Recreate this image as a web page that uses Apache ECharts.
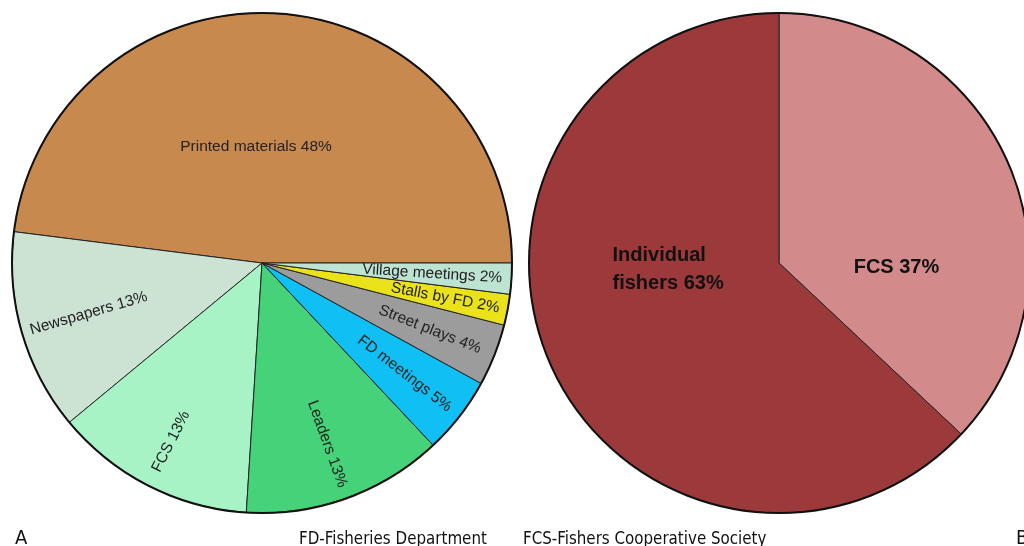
<!DOCTYPE html>
<html>
<head>
<meta charset="utf-8">
<script src="https://cdn.jsdelivr.net/npm/echarts@6/dist/echarts.min.js"></script>
<style>
  html, body { margin: 0; padding: 0; background: #fff; }
  #chart { width: 1024px; height: 546px; }
</style>
</head>
<body>
<div id="chart"></div>
<script>
// left pie (A): information sources
const sourceNames = ['Printed materials', 'Newspapers', 'FCS', 'Leaders', 'FD meetings', 'Street plays', 'Stalls by FD', 'Village meetings']
const sourceValues = [48, 13, 13, 13, 5, 4, 2, 2]
const sourceColors = ['#C8894E', '#CCE3D4', '#A8F3C6', '#45D278', '#10C0F4', '#9C9C9C', '#EAE21A', '#BDE3D2']

// right pie (B): who receives
const memberNames = ['FCS', 'Individual fishers']
const memberValues = [37, 63]
const memberColors = ['#D28A8A', '#9C393B']

const chart = echarts.init(document.getElementById('chart'))

const leftCenter = [262, 263]
const rightCenter = [779, 263]
const R = 250
const pct = p => p.name + ' ' + p.value + '%'
const noteFont = 'Liberation Sans Narrow, DejaVu Sans Condensed, sans-serif'

// small radial tweaks so the rotated labels sit like in the original
// (dx of a rotated label runs along the text, i.e. along the radius)
const radialNudge = { 'FCS': 20, 'Leaders': 12, 'Stalls by FD': 6, 'Village meetings': -10 }
const total = sourceValues.reduce((a, b) => a + b, 0)
const midAngle = i => {
  let before = 0
  for (let k = 0; k < i; k++) before += sourceValues[k]
  return (before + sourceValues[i] / 2) / total * Math.PI * 2
}

const baseData = sourceNames.map((name, i) => ({
  name,
  value: sourceValues[i],
  itemStyle: { color: sourceColors[i] },
  // only the big slice keeps its label in this series, flat
  label: i === 0 ? { show: true, rotate: 0 } : { show: false }
}))

// transparent ring on top, just to push the small labels outward
const labelData = sourceNames.map((name, i) => ({
  name,
  value: sourceValues[i],
  label: { show: i !== 0 }
}))

const option = {
  animation: false,
  title: [
    { text: 'A', left: 10, top: 524, textStyle: { fontFamily: noteFont, fontSize: 20, fontWeight: 'normal', color: '#111' } },
    { text: 'FD-Fisheries Department', left: 294, top: 526, textStyle: { fontFamily: noteFont, fontSize: 16.8, fontWeight: 'normal', color: '#111' } },
    { text: 'FCS-Fishers Cooperative Society', left: 518, top: 526, textStyle: { fontFamily: noteFont, fontSize: 16.8, fontWeight: 'normal', color: '#111' } },
    { text: 'B', left: 1011, top: 524, textStyle: { fontFamily: noteFont, fontSize: 20, fontWeight: 'normal', color: '#111' } }
  ],
  series: [
    {
      type: 'pie',
      center: leftCenter,
      radius: [0, R],
      startAngle: 0,
      clockwise: false,
      avoidLabelOverlap: false,
      silent: true,
      itemStyle: { borderColor: '#222', borderWidth: 1 },
      label: {
        position: 'inside',
        color: '#222',
        fontFamily: 'Liberation Sans, Arial, sans-serif',
        fontSize: 15.5,
        formatter: pct
      },
      labelLayout: { dx: -14, dy: 11 },
      labelLine: { show: false },
      data: baseData
    },
    {
      type: 'pie',
      center: leftCenter,
      radius: [R * 0.42, R],
      startAngle: 0,
      clockwise: false,
      avoidLabelOverlap: false,
      silent: true,
      itemStyle: { color: 'rgba(0,0,0,0)', borderWidth: 0 },
      label: {
        position: 'inside',
        rotate: 'radial',
        color: '#222',
        fontFamily: 'Liberation Sans, Arial, sans-serif',
        fontSize: 15.5,
        formatter: pct
      },
      labelLayout: p => {
        const n = radialNudge[sourceNames[p.dataIndex]] || 0
        const outward = Math.cos(midAngle(p.dataIndex)) >= 0 ? 1 : -1
        return { dx: n * outward, dy: 0 }
      },
      labelLine: { show: false },
      data: labelData
    },
    {
      // outer outline, a bit heavier than the slice edges
      type: 'pie',
      center: leftCenter,
      radius: [0, R],
      silent: true,
      label: { show: false },
      itemStyle: { color: 'rgba(0,0,0,0)', borderColor: '#111', borderWidth: 2 },
      data: [{ name: 'outline', value: 1 }]
    },
    {
      type: 'pie',
      center: rightCenter,
      radius: [0, R],
      startAngle: 90,
      clockwise: true,
      avoidLabelOverlap: false,
      silent: true,
      itemStyle: { borderColor: '#222', borderWidth: 1 },
      label: {
        position: 'inside',
        color: '#111',
        fontFamily: 'Liberation Sans, Arial, sans-serif',
        fontSize: 20,
        fontWeight: 'bold',
        lineHeight: 28,
        formatter: p => p.dataIndex === 1 ? 'Individual\nfishers ' + p.value + '%' : pct(p)
      },
      labelLayout: p => p.dataIndex === 1 ? { dx: -49, dy: -44, align: 'left' } : { dx: 0, dy: 55 },
      labelLine: { show: false },
      data: memberNames.map((name, i) => ({
        name,
        value: memberValues[i],
        itemStyle: { color: memberColors[i] }
      }))
    },
    {
      type: 'pie',
      center: rightCenter,
      radius: [0, R],
      silent: true,
      label: { show: false },
      itemStyle: { color: 'rgba(0,0,0,0)', borderColor: '#111', borderWidth: 2 },
      data: [{ name: 'outline', value: 1 }]
    }
  ]
}

chart.setOption(option)
</script>
</body>
</html>
